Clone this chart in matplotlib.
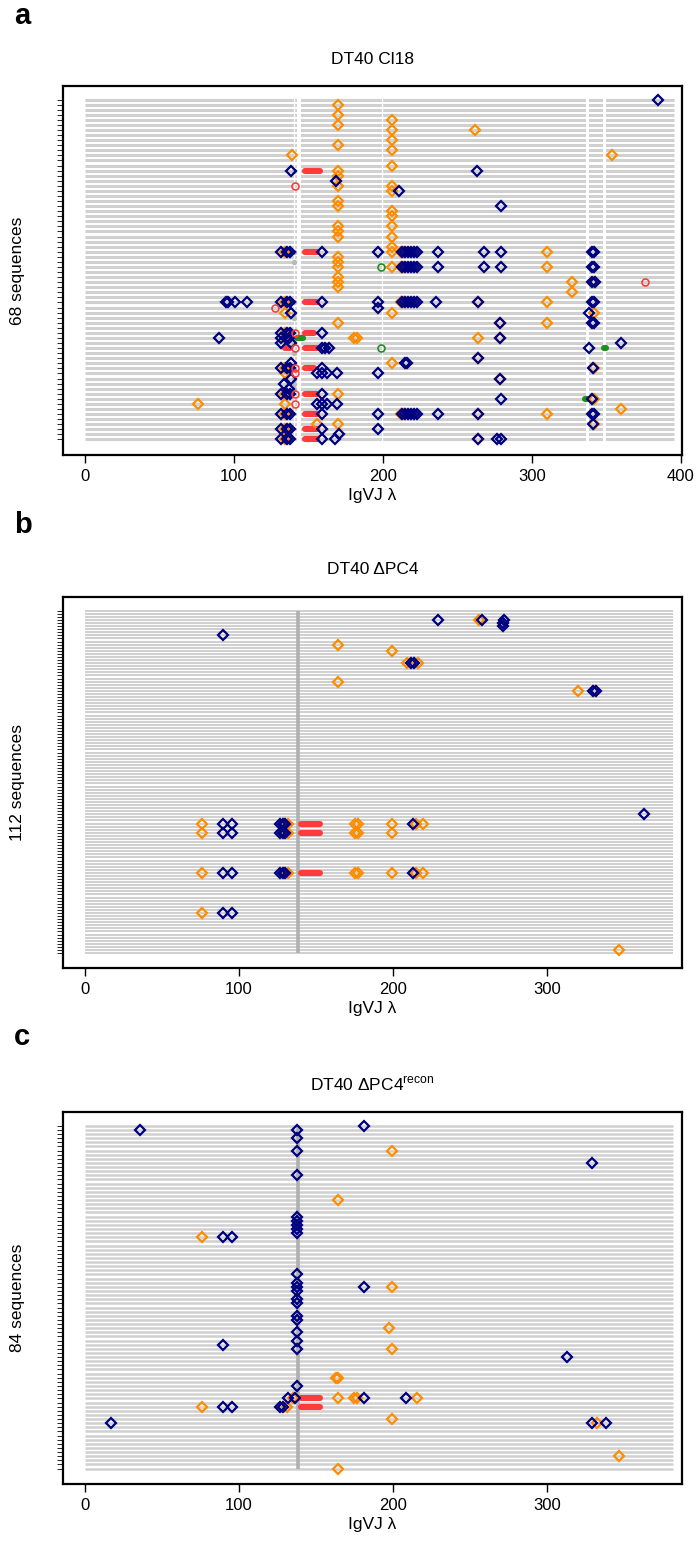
import matplotlib
matplotlib.use("Agg")
import matplotlib.pyplot as plt

plt.rcParams['font.family'] = ['Liberation Sans', 'DejaVu Sans']
plt.rcParams['mathtext.fontset'] = 'custom'
plt.rcParams['mathtext.rm'] = 'Liberation Sans'

# ---------------- data ----------------
titles = ["DT40 Cl18", "DT40 \u0394PC4", "DT40 \u0394PC4$^{\\rm recon}$"]
n_seq = [68, 112, 84]
seq_len = [395, 382, 382]
xticks_a = [0, 100, 200, 300, 400]
xticks_bc = [0, 100, 200, 300]

# panel a gaps in the alignment (thin lines and bands)
a_gap_thin = [140.5, 199.0]
a_gap_band = [(142.3, 145.2), (336.2, 338.3), (347.9, 349.7)]

cluster = [213, 215, 217, 219, 221, 223]

a_navy = ([(1, 384.8), (15, 138), (15, 262.9), (17, 168.5), (19, 210.7), (22, 279)]
          + [(31, 131.3), (31, 135.5), (31, 137.5), (31, 158.8), (31, 196.9), (31, 236.7),
             (31, 267.8), (31, 279), (31, 340), (31, 341.5)] + [(31, c) for c in cluster]
          + [(34, 236.7), (34, 267.8), (34, 279), (34, 340), (34, 341.5)] + [(34, c) for c in cluster]
          + [(37, 340), (37, 342.5)]
          + [(41, 94.4), (41, 95.7), (41, 100.7), (41, 108.9), (41, 131.3), (41, 135.5), (41, 137.5),
             (41, 158.8), (41, 196.9), (41, 235.6), (41, 263.5), (41, 340), (41, 341.5)]
          + [(41, c) for c in cluster]
          + [(42, 196.9), (43, 138), (43, 338.5), (45, 278.5), (45, 340), (45, 341.5)]
          + [(47, 131.3), (47, 135.5), (47, 137.5), (47, 158.8)]
          + [(48, 89.9), (48, 131.3), (48, 137), (48, 278.5)]
          + [(49, 131.3), (49, 138), (49, 359.7)]
          + [(50, 158.8), (50, 161.0), (50, 163.5), (50, 338.5)]
          + [(52, 263.5), (53, 138), (53, 214.5), (53, 216)]
          + [(54, 131.3), (54, 135.5), (54, 137.5), (54, 158.8), (54, 340.7)]
          + [(55, 155.5), (55, 158.8), (55, 162.2), (55, 168.9), (55, 196.9)]
          + [(56, 138), (56, 278.5), (57, 133.6), (58, 137)]
          + [(59, 131.3), (59, 135.5), (59, 137.5), (59, 158.8)]
          + [(60, 279), (60, 340.5)]
          + [(61, 155.5), (61, 158.8), (61, 162.2), (61, 168.9)]
          + [(63, 131.3), (63, 135.5), (63, 137.5), (63, 158.8), (63, 196.9), (63, 236.7),
             (63, 263.5), (63, 340), (63, 341.5)] + [(63, c) for c in cluster]
          + [(65, 340.7)]
          + [(66, 131.3), (66, 135.5), (66, 137.5), (66, 158.8), (66, 196.9)]
          + [(67, 170.7)]
          + [(68, 131.3), (68, 135.5), (68, 137.5), (68, 158.8), (68, 167.8), (68, 263.5),
             (68, 276.5), (68, 279)])

a_orange = ([(r, 169.6) for r in [2, 4, 6, 10, 15, 16, 18, 21, 22, 26, 27, 28, 32, 33, 34,
                                  36, 37, 38, 45, 59, 65]]
            + [(r, 205.8) for r in [5, 7, 9, 11, 14, 18, 19, 23, 24, 26, 28, 30, 31, 34, 43, 53]]
            + [(12, 138.7), (7, 261.7), (12, 354)]
            + [(31, 134.5), (31, 212), (31, 214), (31, 309.8)]
            + [(34, 212), (34, 214), (34, 309.8)]
            + [(37, 326.6), (37, 341.5), (39, 326.6)]
            + [(41, 134.5), (41, 212), (41, 214), (41, 263.5), (41, 309.8)]
            + [(43, 134.2), (43, 341.8), (45, 278.5), (45, 309.8)]
            + [(47, 134.5), (48, 134.5), (48, 180.5), (48, 182.5), (48, 263.5), (48, 278.5)]
            + [(52, 263.5), (54, 134.5), (54, 341.5), (55, 134), (56, 278.5), (59, 134.5)]
            + [(60, 341.5), (61, 75.6), (61, 134), (62, 359.7)]
            + [(63, 134.5), (63, 212), (63, 214), (63, 263.5), (63, 309.8)]
            + [(65, 155.5), (65, 341.5), (66, 134.5), (68, 134.5), (68, 263.5)])

a_red_open = [(18, 141), (37, 375.8), (42, 127.5), (47, 141), (50, 141), (54, 141),
              (55, 141), (59, 141), (61, 141)]
a_green_open = [(34, 198.7), (50, 198.7)]
a_green_bar = [(48, 142.5, 146), (50, 348.5, 349.5), (60, 335.8, 336.6)]
a_gray_dot = [(15, 140), (31, 140), (33, 140), (41, 140), (43, 140), (44, 140), (49, 140),
              (51, 140), (56, 140), (57, 140), (58, 140)]
a_red_bar = [(15, 147.4, 158), (31, 147.4, 155.7), (41, 147.4, 155.7), (47, 147.4, 154),
             (50, 134, 137.5), (50, 147.4, 155.7), (54, 147.4, 153.5), (59, 147.4, 155.7),
             (63, 147.4, 155.7), (66, 147.4, 156), (68, 147.4, 155.7)]

bc_line_x = 138.3

b_busy_navy = [89.4, 95.2, 126.6, 128.8, 130.0]
b_busy_orange = [75.7, 131.6, 175.3, 177.0, 199.4]
b_navy = ([(4, 229.2), (4, 258), (4, 272), (5, 271.5), (6, 271.5), (9, 89.6), (18, 212),
           (18, 213.5), (27, 330), (27, 332), (67, 363)]
          + [(70, x) for x in b_busy_navy] + [(70, 213.2)]
          + [(73, x) for x in b_busy_navy]
          + [(86, x) for x in b_busy_navy] + [(86, 213.2)]
          + [(99, 89.4), (99, 95.2)])
b_orange = ([(4, 256), (12, 164.5), (14, 199.4), (18, 209), (18, 216), (24, 164.5), (27, 320),
             (27, 331)]
            + [(70, x) for x in b_busy_orange] + [(70, 214.7), (70, 219.3)]
            + [(73, x) for x in b_busy_orange]
            + [(86, x) for x in b_busy_orange] + [(86, 214.7), (86, 219.3)]
            + [(99, 75.7), (111, 347)])
b_red_bar = [(70, 140.5, 152.8), (73, 140.5, 152.8), (86, 140.5, 152.8)]

c_navy = ([(1, 181.4), (2, 35.5), (10, 329), (28, 89.4), (28, 95.5), (40, 181.4), (54, 89.4),
           (57, 313.2)]
          + [(r, 137.4) for r in [2, 4, 7, 13, 23, 24, 25, 26, 27, 37, 39, 40, 41, 43, 44, 47,
                                  48, 51, 53, 55, 64]]
          + [(67, 131.6), (67, 136.4), (67, 181.2), (67, 208.4)]
          + [(69, 89.4), (69, 95.5), (69, 126.6), (69, 128.4)]
          + [(73, 16.7), (73, 329), (73, 338.2)])
c_orange = [(7, 199.4), (19, 164.5), (28, 75.8), (40, 199.4), (50, 197.4), (55, 199.4),
            (62, 163), (62, 164.5), (67, 135), (67, 164.1), (67, 174.7), (67, 176.4),
            (67, 215.4), (69, 75.8), (69, 131.4), (72, 199.4), (73, 332.3), (81, 347),
            (84, 164.5)]
c_red_bar = [(67, 140.5, 152.8), (69, 140.5, 152.8)]

# ---------------- styling ----------------
NAVY = '#000080'
ORANGE = '#FF8C00'
RED = '#FF3B3B'
GREEN = '#1E8F1E'
LGRAY = '#D0D0D0'
DGRAY = '#B0B0B0'

W, H = 700, 1543
fig = plt.figure(figsize=(W / 100, H / 100), dpi=100)

boxes = [(86, 455), (597, 968), (1112, 1484)]
xlims = [(-14.8, 400.7), (-14.3, 387.7), (-14.3, 387.7)]
line_lw = [2.2, 1.45, 1.8]
ms_list = [5.3, 4.7, 4.9]
letters = ['a', 'b', 'c']
letter_y = [16, 525, 1037]


def pts(lst):
    return [p[1] for p in lst], [p[0] for p in lst]


def draw_panel(i, navy, orange, red_bar, red_open=(), green_open=(), green_bar=(), gray_dot=(),
               vline=None, gaps_thin=(), gaps_band=()):
    top, bot = boxes[i]
    ax = fig.add_axes([63 / W, 1 - bot / H, (682 - 63) / W, (bot - top) / H])
    n = n_seq[i]
    rows = list(range(1, n + 1))
    ax.hlines(rows, 0, seq_len[i], color=LGRAY, lw=line_lw[i], zorder=1)
    for g in gaps_thin:
        ax.vlines(g, 0, n + 1, color='white', lw=0.9, zorder=1.5)
    for g0, g1 in gaps_band:
        ax.axvspan(g0, g1, color='white', lw=0, zorder=1.5)
    if vline is not None:
        ax.vlines(vline, 1, n, color=DGRAY, lw=2.6, zorder=1.6)
    for r, x0, x1 in red_bar:
        ax.plot([x0, x1], [r, r], color=RED, lw=4.4, solid_capstyle='round', zorder=2)
    for r, x0, x1 in green_bar:
        ax.plot([x0, x1], [r, r], color=GREEN, lw=4.4, solid_capstyle='round', zorder=2.5)
    ms = ms_list[i]
    if gray_dot:
        x, y = pts(gray_dot)
        ax.plot(x, y, 'o', color='#BBBBBB', ms=4, mew=0, zorder=2.2)
    x, y = pts(orange)
    ax.plot(x, y, 'D', mfc='none', mec=ORANGE, ms=ms, mew=1.6, ls='none', zorder=3)
    x, y = pts(navy)
    ax.plot(x, y, 'D', mfc='none', mec=NAVY, ms=ms, mew=1.6, ls='none', zorder=3.2)
    if red_open:
        x, y = pts(red_open)
        ax.plot(x, y, 'o', mfc='none', mec=RED, ms=5, mew=1.2, ls='none', zorder=3.3)
    if green_open:
        x, y = pts(green_open)
        ax.plot(x, y, 'o', mfc='none', mec=GREEN, ms=5, mew=1.2, ls='none', zorder=3.3)

    pad = 0.04 * (n - 1)
    ax.set_ylim(n + pad + 0.4, 1 - pad)
    ax.set_xlim(*xlims[i])
    ax.set_yticks(rows)
    ax.set_yticklabels([])
    ax.tick_params(axis='y', length=4, width=0.6, direction='out')
    ax.set_xticks(xticks_a if i == 0 else xticks_bc)
    ax.tick_params(axis='x', length=6, width=1.0, labelsize=12, pad=4)
    for s in ax.spines.values():
        s.set_linewidth(1.6)
    ax.set_xlabel("IgVJ \u03bb", fontsize=12.5, labelpad=3)
    # title
    fig.text(372.5 / W, 1 - (top - 27) / H, titles[i], ha='center', va='center', fontsize=12.5)
    fig.text(18 / W, 1 - ((top + bot) / 2) / H, f"{n} sequences", rotation=90,
             ha='center', va='center', fontsize=12.5)
    fig.text(14 / W, 1 - letter_y[i] / H, letters[i], ha='left', va='center', fontsize=21,
             fontweight='bold')
    return ax


draw_panel(0, a_navy, a_orange, a_red_bar, a_red_open, a_green_open, a_green_bar, a_gray_dot,
           gaps_thin=a_gap_thin, gaps_band=a_gap_band)
draw_panel(1, b_navy, b_orange, b_red_bar, vline=bc_line_x)
draw_panel(2, c_navy, c_orange, c_red_bar, vline=bc_line_x)

fig.savefig("out.png", dpi=100)
